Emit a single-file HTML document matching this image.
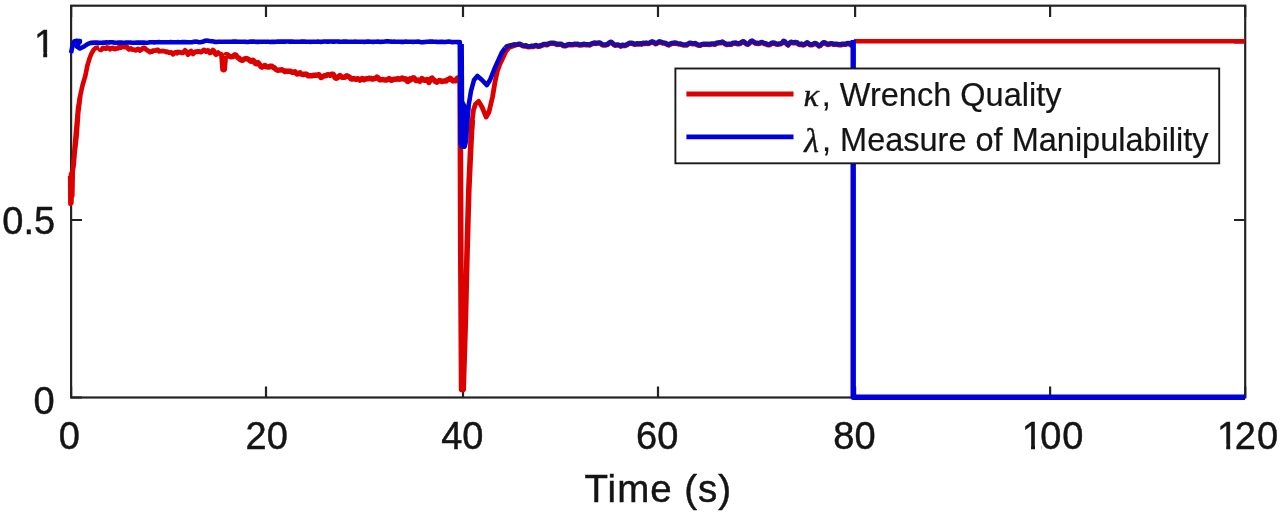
<!DOCTYPE html>
<html><head><meta charset="utf-8"><style>
html,body{margin:0;padding:0;background:#fff;}
body{width:1279px;height:516px;overflow:hidden;}
svg{display:block;}
.t{font-family:"Liberation Sans",Arial,sans-serif;fill:#141414;stroke:#141414;stroke-width:0.45px;}
</style></head><body>
<svg width="1279" height="516" viewBox="0 0 1279 516">
<rect width="1279" height="516" fill="#fff"/>
<rect x="71.1" y="5.7" width="1174.1" height="391.8" stroke="#232323" stroke-width="2.2" fill="none"/>
<path d="M71.1 397.5V386.5M71.1 5.7V16.9M266.0 397.5V386.5M266.0 5.7V16.9M463.0 397.5V386.5M463.0 5.7V16.9M658.0 397.5V386.5M658.0 5.7V16.9M855.1 397.5V386.5M855.1 5.7V16.9M1050.1 397.5V386.5M1050.1 5.7V16.9M1245.2 397.5V386.5M1245.2 5.7V16.9M71 397.5H82M1245 397.5H1234M71 220.0H82M1245 220.0H1234M71 42.5H82M1245 42.5H1234" stroke="#232323" stroke-width="2.2" fill="none"/>
<g fill="none" stroke-linejoin="round" stroke-linecap="butt">
<polyline points="70.2,176.0 70.4,204.0 71.0,174.0 71.4,203.0 71.9,172.0 72.3,196.0 72.8,170.0 73.6,166.0 73.6,166.0 73.7,165.0 73.8,164.0 73.9,163.0 73.9,162.0 74.0,161.0 74.1,160.0 74.2,159.0 74.3,158.0 74.4,157.0 74.5,156.0 74.5,155.0 74.6,154.0 74.7,153.0 74.8,152.0 74.9,151.0 75.0,150.0 75.1,149.0 75.2,148.0 75.4,147.0 75.5,146.0 75.6,145.0 75.7,144.0 75.8,143.0 75.9,142.0 76.0,141.0 76.1,140.0 76.3,139.0 76.4,138.0 76.5,137.0 76.6,136.0 76.7,135.0 76.8,134.0 76.8,133.0 76.9,132.1 77.0,131.1 77.0,130.1 77.1,129.1 77.2,128.2 77.2,127.2 77.3,126.2 77.4,125.2 77.5,124.2 77.5,123.3 77.6,122.3 77.7,121.3 77.7,120.3 77.8,119.4 77.9,118.4 77.9,117.4 78.0,116.4 78.1,115.5 78.1,114.5 78.2,113.5 78.3,112.5 78.4,111.6 78.5,110.6 78.7,109.6 78.8,108.6 78.9,107.7 79.0,106.7 79.1,105.7 79.2,104.7 79.4,103.8 79.5,102.8 79.6,101.8 79.7,100.8 79.8,99.9 79.9,98.9 80.1,97.9 80.2,96.9 80.3,96.0 80.4,95.0 80.6,94.0 80.8,93.0 81.1,92.0 81.3,91.0 81.5,90.0 81.7,89.0 81.9,88.0 82.2,87.0 82.4,86.0 82.6,85.0 82.9,84.0 83.2,83.0 83.5,82.0 83.8,81.0 84.1,80.0 84.4,79.0 84.7,78.0 85.0,77.0 85.3,76.0 85.5,75.0 85.7,74.0 85.9,73.0 86.1,72.0 86.3,71.0 86.5,70.0 86.7,69.0 86.9,68.0 87.1,67.0 87.3,66.0 87.6,65.1 87.8,64.1 88.1,63.2 88.4,62.2 88.7,61.3 89.0,60.4 89.2,59.4 89.5,58.5 89.9,57.5 90.3,56.5 90.7,55.5 91.1,54.5 91.5,53.5 92.0,52.6 92.5,51.8 93.0,50.9 93.5,50.0 94.3,49.3 95.2,48.5 96.0,47.8 97.0,47.7 98.0,47.6 99.0,47.5" stroke="#dc0000" stroke-width="4.6"/>
<polyline points="71.8,178 73.2,160 74.6,142 76.2,124 77.6,108 79.6,96" stroke="#dc0000" stroke-width="3.6"/>
<polyline points="99.0,48.3 100.0,49.7 101.0,49.9 102.0,49.1 103.0,47.9 104.0,48.3 105.0,48.4 106.0,48.7 107.0,47.5 108.0,47.9 109.0,48.1 110.0,49.2 111.0,48.4 112.0,48.1 113.0,48.0 114.0,48.8 115.0,49.0 116.0,48.5 117.0,48.4 118.0,48.3 119.0,47.2 120.0,47.0 121.0,47.5 122.0,47.1 123.0,46.2 124.0,46.6 125.0,47.1 126.0,46.6 127.0,46.9 128.0,48.5 129.0,49.4 130.0,48.9 131.0,48.5 132.0,49.4 133.0,49.7 134.0,49.7 135.0,50.1 136.0,50.3 137.0,49.4 138.0,48.9 139.0,49.5 140.0,50.6 141.0,49.9 142.0,49.0 143.0,48.1 144.0,47.9 145.0,48.2 146.0,49.4 147.0,50.1 148.0,50.7 149.0,51.3 150.0,52.1 151.0,51.5 152.0,51.7 153.0,50.7 154.0,50.5 155.0,50.7 156.0,50.5 157.0,50.0 158.0,50.0 159.0,51.4 160.0,51.2 161.0,51.2 162.0,51.1 163.0,51.0 164.0,51.2 165.0,51.3 166.0,52.0 167.0,51.6 168.0,52.1 169.0,52.6 170.0,52.7 171.0,52.4 172.0,53.0 173.0,54.3 174.0,53.2 175.0,52.5 176.0,52.2 177.0,53.1 178.0,52.0 179.0,52.3 180.0,52.2 181.0,52.5 182.0,52.9 183.0,52.8 184.0,51.7 185.0,50.4 186.0,51.3 187.0,52.6 188.0,54.7 189.0,53.6 190.0,51.6 191.0,51.1 192.0,53.2 193.0,53.9 194.0,52.8 195.0,51.8 196.0,51.7 197.0,51.9 198.0,51.3 199.0,51.4 200.0,51.9 201.0,52.1 202.0,51.5 203.0,50.5 204.0,49.9 205.0,50.8 206.0,51.6 207.0,50.7 208.0,50.4 209.0,51.2 210.0,53.0 211.0,52.4 212.0,51.9 213.0,50.1 214.0,51.0 215.0,53.6 216.0,54.6 217.0,53.2 218.0,52.5 219.0,53.6 221.5,54.5 222.6,69.5 223.6,70.0 224.6,69.5 225.8,55.5" stroke="#dc0000" stroke-width="4.8"/>
<polyline points="225.8,55.5 226.0,54.8 227.0,54.7 228.0,55.2 229.0,56.0 230.0,56.4 231.0,56.8 232.0,56.4 233.0,56.6 234.0,55.4 235.0,54.7 236.0,55.3 237.0,56.7 238.0,57.8 239.0,58.1 240.0,59.4 241.0,59.9 242.0,60.4 243.0,60.0 244.0,59.3 245.0,58.6 246.0,58.7 247.0,58.8 248.0,59.1 249.0,59.7 250.0,60.8 251.0,61.2 252.0,60.5 253.0,60.3 254.0,61.2 255.0,63.1 256.0,63.8 257.0,63.6 258.0,62.7 259.0,63.7 260.0,65.2 261.0,66.6 262.0,67.2 263.0,66.7 264.0,65.8 265.0,65.4 266.0,66.5 267.0,66.9 268.0,67.0 269.0,67.1 270.0,66.3 271.0,66.2 272.0,66.2 273.0,67.3 274.0,67.6 275.0,68.5 276.0,69.4 277.0,70.1 278.0,70.2 279.0,70.1 280.0,70.0 281.0,69.9 282.0,69.8 283.0,70.4 284.0,70.9 285.0,71.6 286.0,71.0 287.0,71.3 288.0,71.2 289.0,71.4 290.0,71.1 291.0,71.5 292.0,72.2 293.0,72.3 294.0,72.1 295.0,71.7 296.0,72.9 297.0,74.1 298.0,73.9 299.0,73.2 300.0,72.8 301.0,74.1 302.0,74.0 303.0,74.5 304.0,74.3 305.0,74.4 306.0,74.0 307.0,74.6 308.0,75.8 309.0,75.8 310.0,75.8 311.0,75.8 312.0,75.8 313.0,75.3 314.0,75.6 315.0,75.1 316.0,75.4 317.0,75.1 318.0,74.9 319.0,74.7 320.0,76.1 321.0,77.5 322.0,77.0 323.0,76.3 324.0,75.8 325.0,75.9 326.0,75.7 327.0,74.8 328.0,74.6 329.0,74.6 330.0,75.3 331.0,74.5 332.0,74.2 333.0,74.1 334.0,75.5 335.0,77.5 336.0,78.2 337.0,78.1 338.0,77.4 339.0,76.2 340.0,75.5 341.0,76.3 342.0,77.2 343.0,77.2 344.0,77.4 345.0,77.3 346.0,76.2 347.0,75.7 348.0,76.3 349.0,77.0 350.0,77.6 351.0,78.9 352.0,79.1 353.0,78.6 354.0,78.5 355.0,79.1 356.0,79.3 357.0,78.8 358.0,78.6 359.0,79.3 360.0,80.2 361.0,79.4 362.0,78.5 363.0,79.0 364.0,79.7 365.0,79.0 366.0,79.0 367.0,78.6 368.0,78.7 369.0,78.3 370.0,78.3 371.0,78.5 372.0,79.1 373.0,79.1 374.0,78.5 375.0,78.5 376.0,78.0 377.0,77.1 378.0,77.8 379.0,79.3 380.0,79.9 381.0,79.7 382.0,79.6 383.0,79.5 384.0,79.9 385.0,80.0 386.0,80.1 387.0,79.8 388.0,79.3 389.0,78.5 390.0,79.1 391.0,80.2 392.0,80.2 393.0,79.5 394.0,79.2 395.0,79.3 396.0,79.0 397.0,79.2 398.0,78.4 399.0,79.1 400.0,79.2 401.0,78.9 402.0,77.9 403.0,78.3 404.0,79.1 405.0,78.8 406.0,79.0 407.0,81.0 408.0,81.5 409.0,80.7 410.0,78.9 411.0,79.6 412.0,78.6 413.0,77.8 414.0,78.0 415.0,79.3 416.0,80.6 417.0,80.3 418.0,80.0 419.0,80.9 420.0,81.3 421.0,80.1 422.0,78.6 423.0,79.2 424.0,80.1 425.0,80.4 426.0,79.9 427.0,79.5 428.0,81.0 429.0,82.5 430.0,80.7 431.0,78.6 432.0,78.0 433.0,79.6 434.0,79.9 435.0,81.3 436.0,81.8 437.0,82.2 438.0,81.3 439.0,80.7 440.0,80.4 441.0,81.1 442.0,81.6 443.0,81.1 444.0,81.0 445.0,81.1 446.0,81.1 447.0,80.0 448.0,79.6 449.0,79.3 450.0,78.3 450.9,78.7 451.9,79.8 452.8,81.0 453.8,80.7 454.7,80.8 455.7,80.9 456.6,78.9 457.6,78.0 458.5,78.1" stroke="#dc0000" stroke-width="5.4"/>
<polyline points="458.5,79.5 460.2,79.5 460.4,150.0 460.8,260.0 461.6,389.5 463.2,389.5 465.4,320.0 467.1,250.0 468.8,190.0 470.6,150.0 471.6,130.0 472.3,120.0" stroke="#dc0000" stroke-width="5.6"/>
<polyline points="471.6,130.0 472.3,120.0 473.5,110.0 475.5,104.0 478.7,101.4 482.0,107.0 486.2,117.0 489.0,112.0 492.5,97.0 495.0,82.0 497.4,71.0 500.0,64.0 503.3,57.0 505.5,52.0 509.0,47.5 517.0,44.8" stroke="#dc0000" stroke-width="4.8"/>
<polyline points="517.0,44.8 518.4,44.9 519.9,44.8 521.4,45.6 522.9,46.4 524.4,46.5 525.9,46.3 527.3,47.1 528.8,47.2 530.3,47.1 531.8,46.9 533.3,47.0 534.8,46.4 536.2,46.0 537.7,46.8 539.2,46.8 540.7,46.3 542.2,45.7 543.7,45.0 545.1,45.1 546.6,45.3 548.1,44.8 549.6,44.1 551.1,43.7 552.6,43.7 554.0,43.9 555.5,44.3 557.0,45.0 558.5,44.7 560.0,44.8 561.4,44.8 562.9,46.0 564.4,46.4 565.9,46.2 567.4,45.5 568.9,45.1 570.3,45.4 571.8,45.2 573.3,45.2 574.8,44.8 576.3,45.1 577.8,44.8 579.2,45.6 580.7,45.6 582.2,45.4 583.7,44.7 585.2,45.2 586.7,45.3 588.1,45.4 589.6,45.5 591.1,44.7 592.6,44.2 594.1,43.5 595.6,44.0 597.0,43.7 598.5,43.6 600.0,43.5 601.5,44.7 603.0,45.5 604.5,45.5 606.0,45.5 607.5,45.0 609.0,43.7 610.4,42.8 611.9,43.3 613.4,44.7 614.9,45.9 616.4,45.6 617.9,45.6 619.4,45.9 620.9,46.7 622.4,45.7 623.9,46.0 625.4,46.0 626.9,45.3 628.4,44.3 629.9,43.7 631.3,43.9 632.8,44.1 634.3,44.7 635.8,44.7 637.3,44.3 638.8,44.5 640.3,44.3 641.8,44.7 643.3,43.8 644.8,44.0 646.3,43.6 647.8,44.1 649.3,43.8 650.7,43.1 652.2,42.4 653.7,42.9 655.2,44.2 656.7,44.1 658.2,42.9 659.7,42.2 661.2,42.9 662.7,43.6 664.2,43.6 665.7,44.0 667.2,44.9 668.7,45.5 670.1,44.7 671.6,44.1 673.1,43.9 674.6,43.6 676.1,43.8 677.6,44.2 679.1,44.5 680.6,44.6 682.1,45.2 683.6,45.6 685.1,45.6 686.6,45.6 688.1,44.6 689.6,43.7 691.0,43.9 692.5,44.3 694.0,44.2 695.5,44.1 697.0,45.1 698.5,45.7 700.0,45.9 701.5,45.2 703.0,44.9 704.5,44.9 706.0,44.8 707.5,44.9 709.0,45.1 710.4,44.7 711.9,44.5 713.4,44.5 714.9,44.8 716.4,43.8 717.9,43.6 719.4,43.2 720.9,43.3 722.4,42.5 723.9,43.6 725.4,44.5 726.9,45.1 728.4,44.7 729.9,44.9 731.3,44.8 732.8,43.9 734.3,43.8 735.8,43.6 737.3,44.3 738.8,44.4 740.3,43.9 741.8,42.8 743.3,42.2 744.8,43.2 746.3,44.4 747.8,44.9 749.3,43.8 750.7,42.2 752.2,41.6 753.7,42.6 755.2,43.5 756.7,43.9 758.2,44.1 759.7,43.8 761.2,43.1 762.7,43.3 764.2,44.0 765.7,44.3 767.2,45.1 768.7,45.3 770.1,45.0 771.6,43.8 773.1,43.6 774.6,43.8 776.1,44.6 777.6,44.7 779.1,44.5 780.6,44.4 782.1,43.6 783.6,41.8 785.1,42.6 786.6,44.5 788.1,45.6 789.6,43.8 791.0,42.7 792.5,43.3 794.0,43.3 795.5,43.1 797.0,43.2 798.5,44.6 800.0,45.0 801.5,44.6 802.9,45.5 804.4,45.1 805.8,44.2 807.3,43.3 808.8,44.5 810.2,45.3 811.7,45.4 813.1,44.8 814.6,44.1 816.1,44.2 817.5,45.4 819.0,46.6 820.5,45.9 821.9,44.5 823.4,43.3 824.8,43.4 826.3,44.3 827.8,45.1 829.2,44.6 830.7,44.2 832.1,44.3 833.6,44.9 835.1,44.8 836.5,44.8 838.0,45.0 839.5,45.2 840.9,45.3 842.4,44.8 843.8,44.8 845.3,44.9 846.8,44.2 848.2,44.0 849.7,44.3 851.1,45.5 852.6,45.5 852.0,45.0" stroke="#dc0000" stroke-width="4.4"/>
<polyline points="853.8,41.3 1245.0,41.3" stroke="#dc0000" stroke-width="4.5"/>
<polyline points="71.0,53.0 72.5,46.0 74.2,41.5 76.0,40.9 80.0,41.0 77.0,46.5 80.0,48.5 84.5,46.2 87.5,44.2 90.7,42.9 95.0,42.6 96.0,42.6 97.5,42.6 99.0,42.7 100.5,42.8 102.0,42.8 103.5,42.6 105.0,42.6 106.5,42.4 108.0,42.5 109.5,42.4 111.0,42.3 112.5,42.2 114.0,42.6 115.5,42.8 117.0,42.8 118.5,42.6 120.0,42.6 121.5,42.6 123.0,42.7 124.5,42.7 126.0,42.6 127.5,42.5 129.0,42.5 130.5,42.5 132.0,42.7 133.5,42.7 135.0,42.7 136.5,42.6 138.0,42.6 139.5,42.6 141.0,42.6 142.5,42.6 144.0,42.6 145.5,42.7 147.0,42.7 148.5,42.5 150.0,42.2 151.5,42.2 152.9,42.3 154.4,42.4 155.9,42.2 157.4,42.2 158.8,42.1 160.3,42.3 161.8,42.3 163.2,42.3 164.7,42.2 166.2,42.3 167.6,42.3 169.1,42.2 170.6,42.1 172.1,42.2 173.5,42.3 175.0,42.3 176.5,42.2 177.9,42.1 179.4,42.2 180.9,42.2 182.4,42.1 183.8,42.1 185.3,42.1 186.8,42.3 188.2,42.3 189.7,42.2 191.2,42.2 192.6,42.1 194.1,41.8 195.6,41.6 197.1,41.8 198.5,42.1 200.0,42.3 201.3,42.1 202.7,41.7 204.0,41.3 205.3,40.7 206.7,40.6 208.0,40.7 209.4,41.0 210.8,41.2 212.2,41.3 213.6,41.6 215.0,41.9 216.5,42.0 218.0,41.7 219.5,41.7 221.0,41.7 222.5,41.8 223.9,41.7 225.4,41.8 226.9,41.8 228.4,41.8 229.9,41.7 231.4,41.7 232.9,41.6 234.4,41.6 235.9,41.5 237.4,41.7 238.9,41.7 240.4,41.8 241.8,41.8 243.3,41.7 244.8,41.7 246.3,41.9 247.8,42.0 249.3,41.8 250.8,41.6 252.3,41.6 253.8,41.6 255.3,41.7 256.8,41.9 258.2,41.9 259.7,41.8 261.2,41.7 262.7,41.8 264.2,41.8 265.7,41.8 267.2,41.7 268.7,41.8 270.2,42.0 271.7,41.9 273.2,41.8 274.6,41.9 276.1,41.7 277.6,41.6 279.1,41.6 280.6,41.6 282.1,41.5 283.6,41.6 285.1,41.6 286.6,41.5 288.1,41.5 289.6,41.6 291.1,41.6 292.5,41.6 294.0,41.7 295.5,41.7 297.0,41.8 298.5,41.8 300.0,41.8 301.5,41.6 303.0,41.5 304.5,41.6 306.0,41.8 307.5,41.8 309.0,41.8 310.4,41.9 311.9,41.8 313.4,41.7 314.9,41.7 316.4,41.7 317.9,41.6 319.4,41.7 320.9,41.9 322.4,41.8 323.9,41.5 325.4,41.5 326.9,41.6 328.4,41.6 329.9,41.5 331.3,41.5 332.8,41.6 334.3,41.6 335.8,41.5 337.3,41.5 338.8,41.6 340.3,41.7 341.8,41.7 343.3,41.6 344.8,41.5 346.3,41.6 347.8,41.8 349.3,41.8 350.7,41.7 352.2,41.7 353.7,41.7 355.2,41.6 356.7,41.7 358.2,41.7 359.7,41.7 361.2,41.7 362.7,41.8 364.2,41.9 365.7,41.7 367.2,41.6 368.7,41.5 370.1,41.7 371.6,41.8 373.1,41.9 374.6,41.7 376.1,41.7 377.6,41.6 379.1,41.8 380.6,41.9 382.1,41.8 383.6,41.7 385.1,41.5 386.6,41.4 388.1,41.4 389.6,41.5 391.0,41.6 392.5,41.7 394.0,41.6 395.5,41.7 397.0,41.8 398.5,41.8 400.0,41.7 401.5,41.9 402.9,41.9 404.4,41.7 405.9,41.5 407.4,41.7 408.9,41.8 410.3,41.8 411.8,41.7 413.3,41.9 414.8,41.8 416.2,41.7 417.7,41.6 419.2,41.8 420.6,42.1 422.1,42.3 423.6,42.1 425.1,42.0 426.6,41.7 428.0,41.7 429.5,41.6 431.0,41.6 432.4,41.6 433.9,41.7 435.4,41.8 436.9,41.9 438.4,42.0 439.8,41.9 441.3,41.8 442.8,41.9 444.2,42.0 445.7,41.9 447.2,41.7 448.7,41.5 450.1,41.8 451.6,42.1 453.1,42.1 454.6,42.0 456.1,42.0 457.5,42.1 459.0,42.0 459.8,42.0 460.2,100.0 460.5,143.0 461.6,146.8 464.6,146.8 466.0,141.0 467.0,125.0 468.7,105.0 471.0,91.0 474.0,80.0 477.4,76.0 482.0,80.0 486.9,85.1 490.0,80.0 494.0,70.0 498.0,61.0 502.0,52.3 505.0,48.2" stroke="#0000d8" stroke-width="4.6"/>
<polyline points="461.6,44 462.2,142" stroke="#0000d8" stroke-width="4.6"/>
<polygon points="460.5,95 460.6,145 464.6,145 466.2,137 467.2,122 468.2,108" fill="#0000d8" stroke="none"/>
<polyline points="505.0,48.2 507.0,46.3 511.0,45.3 514.0,44.5 515.5,44.7 517.0,44.6 518.4,44.0 519.9,43.9 521.4,44.7 522.9,45.5 524.4,45.6 525.9,45.4 527.3,46.2 528.8,46.3 530.3,46.2 531.8,46.0 533.3,46.1 534.8,45.5 536.2,45.1 537.7,45.9 539.2,45.9 540.7,45.4 542.2,44.8 543.7,44.1 545.1,44.2 546.6,44.4 548.1,43.9 549.6,43.2 551.1,42.8 552.6,42.8 554.0,43.0 555.5,43.4 557.0,44.1 558.5,43.8 560.0,43.9 561.4,43.9 562.9,45.1 564.4,45.5 565.9,45.3 567.4,44.6 568.9,44.2 570.3,44.5 571.8,44.3 573.3,44.3 574.8,43.9 576.3,44.2 577.8,43.9 579.2,44.7 580.7,44.7 582.2,44.5 583.7,43.8 585.2,44.3 586.7,44.4 588.1,44.5 589.6,44.6 591.1,43.8 592.6,43.3 594.1,42.6 595.6,43.1 597.0,42.8 598.5,42.7 600.0,42.6 601.5,43.8 603.0,44.6 604.5,44.6 606.0,44.6 607.5,44.1 609.0,42.8 610.4,41.9 611.9,42.4 613.4,43.8 614.9,45.0 616.4,44.7 617.9,44.7 619.4,45.0 620.9,45.8 622.4,44.8 623.9,45.1 625.4,45.1 626.9,44.4 628.4,43.4 629.9,42.8 631.3,43.0 632.8,43.2 634.3,43.8 635.8,43.8 637.3,43.4 638.8,43.6 640.3,43.4 641.8,43.8 643.3,42.9 644.8,43.1 646.3,42.7 647.8,43.2 649.3,42.9 650.7,42.2 652.2,41.5 653.7,42.0 655.2,43.3 656.7,43.2 658.2,42.0 659.7,41.3 661.2,42.0 662.7,42.7 664.2,42.7 665.7,43.1 667.2,44.0 668.7,44.6 670.1,43.8 671.6,43.2 673.1,43.0 674.6,42.7 676.1,42.9 677.6,43.3 679.1,43.6 680.6,43.7 682.1,44.3 683.6,44.7 685.1,44.7 686.6,44.7 688.1,43.7 689.6,42.8 691.0,43.0 692.5,43.4 694.0,43.3 695.5,43.2 697.0,44.2 698.5,44.8 700.0,45.0 701.5,44.3 703.0,44.0 704.5,44.0 706.0,43.9 707.5,44.0 709.0,44.2 710.4,43.8 711.9,43.6 713.4,43.6 714.9,43.9 716.4,42.9 717.9,42.7 719.4,42.3 720.9,42.4 722.4,41.6 723.9,42.7 725.4,43.6 726.9,44.2 728.4,43.8 729.9,44.0 731.3,43.9 732.8,43.0 734.3,42.9 735.8,42.7 737.3,43.4 738.8,43.5 740.3,43.0 741.8,41.9 743.3,41.3 744.8,42.3 746.3,43.5 747.8,44.0 749.3,42.9 750.7,41.3 752.2,40.7 753.7,41.7 755.2,42.6 756.7,43.0 758.2,43.2 759.7,42.9 761.2,42.2 762.7,42.4 764.2,43.1 765.7,43.4 767.2,44.2 768.7,44.4 770.1,44.1 771.6,42.9 773.1,42.7 774.6,42.9 776.1,43.7 777.6,43.8 779.1,43.6 780.6,43.5 782.1,42.7 783.6,40.9 785.1,41.7 786.6,43.6 788.1,44.7 789.6,42.9 791.0,41.8 792.5,42.4 794.0,42.4 795.5,42.2 797.0,42.3 798.5,43.7 800.0,44.1 801.5,43.7 802.9,44.6 804.4,44.2 805.8,43.3 807.3,42.4 808.8,43.6 810.2,44.4 811.7,44.5 813.1,43.9 814.6,43.2 816.1,43.3 817.5,44.5 819.0,45.7 820.5,45.0 821.9,43.6 823.4,42.4 824.8,42.5 826.3,43.4 827.8,44.2 829.2,43.7 830.7,43.3 832.1,43.4 833.6,44.0 835.1,43.9 836.5,43.9 838.0,44.1 839.5,44.3 840.9,44.4 842.4,43.9 843.8,43.9 845.3,44.0 846.8,43.3 848.2,43.1 849.7,43.4 851.1,44.6 852.6,44.6" stroke="#220c9e" stroke-width="4.8"/>
<polyline points="853.2,40.0 853.2,397.2 1245.0,397.2" stroke="#0000d8" stroke-width="5.4"/>
</g>
<g class="t" font-size="38" text-anchor="middle"><text x="69.2" y="449">0</text><text x="266.7" y="449">20</text><text x="462.3" y="449">40</text><text x="657.2" y="449">60</text><text x="854.5" y="449">80</text><text x="1021.8 1040.2 1062.3" y="449" text-anchor="start">100</text><text x="1217 1234.8 1256.9" y="449" text-anchor="start">120</text></g>
<g class="t" font-size="38" text-anchor="end">
<text x="54.6" y="413.5">0</text>
<text x="55.1" y="234">0.5</text>
<text x="55.1" y="56.7">1</text>
</g>
<g fill="#fff"><rect x="35.47" y="52.06" width="7.76" height="6.44"/><rect x="47.19" y="52.06" width="7.59" height="6.44"/><rect x="1023.29" y="444.36" width="7.76" height="6.44"/><rect x="1035.01" y="444.36" width="6.09" height="6.44"/><rect x="1218.49" y="444.36" width="7.76" height="6.44"/><rect x="1230.21" y="444.36" width="6.09" height="6.44"/></g>
<text class="t" font-size="38.5" x="657.8" y="502" text-anchor="middle" textLength="146.5" lengthAdjust="spacing">Time (s)</text>
<g>
<rect x="675.4" y="68.5" width="543.8" height="94.8" fill="#fff" stroke="#1a1a1a" stroke-width="1.9"/>
<line x1="686.4" y1="94" x2="793.5" y2="94" stroke="#dc0000" stroke-width="4.8"/>
<line x1="686.4" y1="136.9" x2="793.5" y2="136.9" stroke="#0000d8" stroke-width="4.8"/>
<text font-size="32.5" x="803.6" y="106.2" font-family="'Liberation Serif',serif" font-style="italic" fill="#141414" stroke="#141414" stroke-width="0.4">κ</text>
<text class="t" font-size="32.5" x="821.8" y="105.9" style="stroke-width:0.2px">, Wrench Quality</text>
<text font-size="34" x="804.2" y="151.8" font-family="'Liberation Serif',serif" font-style="italic" fill="#141414" stroke="#141414" stroke-width="0.4">λ</text>
<text class="t" font-size="32.5" x="822" y="151.1" style="stroke-width:0.2px">, Measure of Manipulability</text>
</g>
</svg>
</body></html>
